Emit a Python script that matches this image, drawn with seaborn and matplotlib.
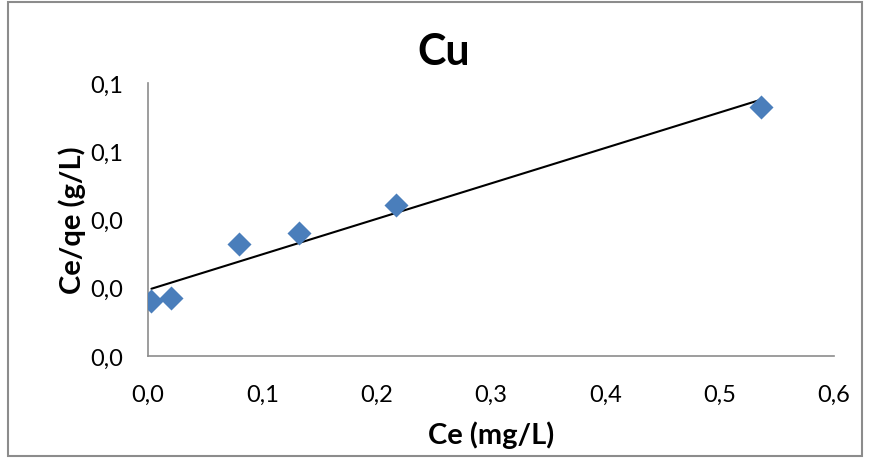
import matplotlib
matplotlib.use("Agg")
import matplotlib.pyplot as plt
from matplotlib.patches import Rectangle
from matplotlib.ticker import FuncFormatter, MultipleLocator
import numpy as np
import pandas as pd
import seaborn as sns

# Equilibrium data for Cu
ce = [0.003, 0.020, 0.0796, 0.132, 0.217, 0.536]        # Ce (mg/L)
ce_qe = [0.0161, 0.0170, 0.0328, 0.0360, 0.0442, 0.0729]  # Ce/qe (g/L)

df = pd.DataFrame({"Ce": ce, "Ce_qe": ce_qe})

sns.set_theme(style="white")
plt.rcParams["font.family"] = ["Lato", "DejaVu Sans"]
plt.rcParams["text.color"] = "black"
plt.rcParams["axes.labelcolor"] = "black"

fig = plt.figure(figsize=(8.69, 4.60), dpi=100)
ax = fig.add_axes([0.1703, 0.2239, 0.7894, 0.5935])

# Linear trendline over the data range
sns.regplot(data=df, x="Ce", y="Ce_qe", ax=ax, scatter=False, ci=None,
            line_kws={"color": "black", "lw": 1.5})
sns.scatterplot(data=df, x="Ce", y="Ce_qe", ax=ax, marker="D", s=150,
                color="#4A7EBB", edgecolor="#4A7EBB", linewidth=0, zorder=3)

ax.set_xlim(0, 0.6)
ax.set_ylim(0, 0.08)
ax.xaxis.set_major_locator(MultipleLocator(0.1))
ax.yaxis.set_major_locator(MultipleLocator(0.02))
fmt = FuncFormatter(lambda v, p: f"{v:.1f}".replace(".", ","))
ax.xaxis.set_major_formatter(fmt)
ax.yaxis.set_major_formatter(fmt)
ax.tick_params(axis="both", labelsize=17, length=0, colors="black")
ax.tick_params(axis="x", pad=20)
ax.tick_params(axis="y", pad=18)

for side in ["top", "right"]:
    ax.spines[side].set_visible(False)
for side in ["left", "bottom"]:
    ax.spines[side].set_color("#8c8c8c")
    ax.spines[side].set_linewidth(1.2)

ax.set_xlabel("Ce (mg/L)", fontsize=21, fontweight="bold", color="black")
ax.set_ylabel("Ce/qe (g/L)", fontsize=21, fontweight="bold", color="black")
ax.xaxis.set_label_coords(0.5, -0.235)
ax.yaxis.set_label_coords(-0.09, 0.5)

# Chart title, centred on the whole chart area
fig.text(0.511, 0.887, "Cu", fontsize=31, fontweight="bold", color="black",
         ha="center", va="center")

# Outer chart border
fig.patches.append(Rectangle((0.009, 0.006), 0.983, 0.988, transform=fig.transFigure,
                             fill=False, edgecolor="#8c8c8c", linewidth=1.5))

fig.savefig("out.png", dpi=100)
